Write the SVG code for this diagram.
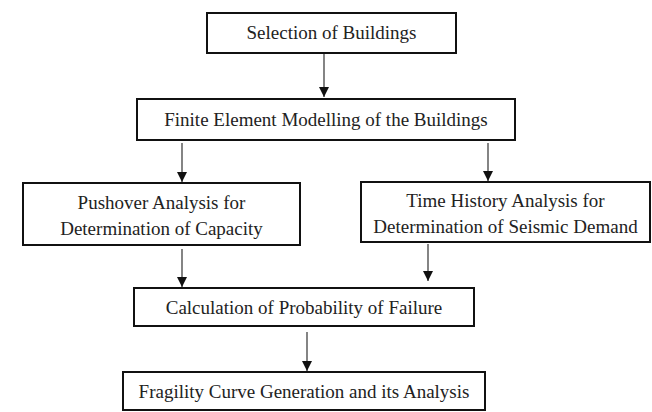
<svg xmlns="http://www.w3.org/2000/svg" width="652" height="412" viewBox="0 0 652 412">
<defs>
<marker id="ah" viewBox="0 0 10 10" refX="10" refY="5" markerWidth="10" markerHeight="10" markerUnits="userSpaceOnUse" orient="auto">
<path d="M0,0 L10,5 L0,10 Z" fill="#111"/>
</marker>
<style>
.box{fill:#fff;stroke:#111;stroke-width:2}
.t{font-family:'Liberation Serif','Times New Roman',serif;font-size:19px;fill:#222;text-anchor:middle}
.c{stroke:#333;stroke-width:1.2;fill:none;marker-end:url(#ah)}
</style>
</defs>
<rect width="652" height="412" fill="#fff"/>
<g id="connectors">
<line class="c" x1="324" y1="53" x2="324" y2="97"/>
<line class="c" x1="182" y1="143" x2="182" y2="182"/>
<line class="c" x1="488" y1="143" x2="488" y2="181"/>
<line class="c" x1="182" y1="249" x2="182" y2="287"/>
<line class="c" x1="428" y1="244" x2="428" y2="281"/>
<line class="c" x1="307" y1="332" x2="307" y2="371"/>
</g>
<g id="n1"><rect class="box" x="207" y="13" width="249" height="40"/><text class="t" x="331.5" y="39">Selection of Buildings</text></g>
<g id="n2"><rect class="box" x="137" y="99" width="378" height="41"/><text class="t" x="326" y="126">Finite Element Modelling of the Buildings</text></g>
<g id="n3"><rect class="box" x="23" y="183" width="277" height="62"/><text class="t" x="161.5" y="209">Pushover Analysis for</text><text class="t" x="161.5" y="235">Determination of Capacity</text></g>
<g id="n4"><rect class="box" x="361" y="182" width="289" height="60"/><text class="t" x="505.5" y="207">Time History Analysis for</text><text class="t" x="505.5" y="233">Determination of Seismic Demand</text></g>
<g id="n5"><rect class="box" x="134" y="288" width="340" height="38"/><text class="t" x="304" y="314">Calculation of Probability of Failure</text></g>
<g id="n6"><rect class="box" x="123" y="372" width="362" height="38"/><text class="t" x="304" y="398">Fragility Curve Generation and its Analysis</text></g>
</svg>
